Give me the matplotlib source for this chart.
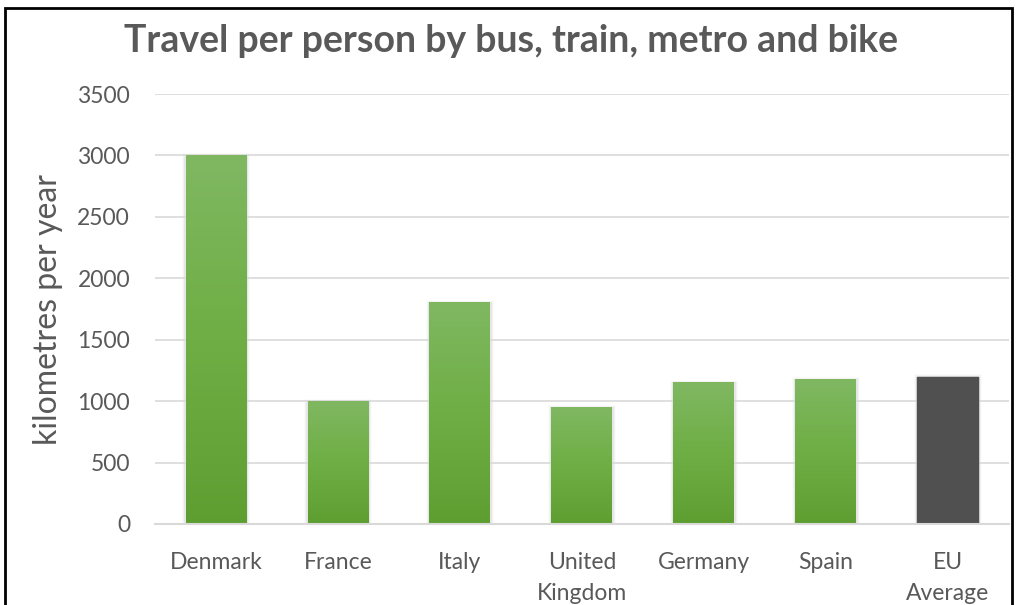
import numpy as np
import matplotlib
matplotlib.use('Agg')
import matplotlib.pyplot as plt
from matplotlib.patches import Rectangle
from matplotlib.colors import LinearSegmentedColormap

countries = ['Denmark', 'France', 'Italy', 'United\nKingdom', 'Germany', 'Spain', 'EU\nAverage']
km_per_year = [3000, 1000, 1800, 950, 1150, 1175, 1200]
yticks = [0, 500, 1000, 1500, 2000, 2500, 3000, 3500]

plt.rcParams['font.family'] = ['Lato', 'DejaVu Sans']
text_color = '#595959'

fig = plt.figure(figsize=(10.16, 6.05), dpi=100)
ax = fig.add_axes([0.1526, 0.1339, 0.8404, 0.7107])

x = np.arange(len(countries))
bars = ax.bar(x, km_per_year, width=0.5, color='#70ad47', zorder=2)

# gradient fill: lighter at the top, darker at the bottom
green = LinearSegmentedColormap.from_list('g', ['#5e9e31', '#6eae44', '#80b862'])
grad = np.linspace(0, 1, 256).reshape(-1, 1)
for i, b in enumerate(bars):
    x0, w, h = b.get_x(), b.get_width(), b.get_height()
    # soft shadow at the sides
    for k, a in enumerate([0.05, 0.03, 0.015]):
        ax.add_patch(Rectangle((x0 - 0.01 * (k + 1), 0), w + 0.02 * (k + 1), h + 6 * (k + 1),
                               color='black', alpha=a, lw=0, zorder=1.5))
    if i == len(bars) - 1:
        b.set_color('#505050')
        continue
    b.set_alpha(0)
    ax.imshow(grad, cmap=green, aspect='auto', extent=(x0, x0 + w, 0, h),
              origin='lower', zorder=2)

ax.set_xlim(-0.5, len(countries) - 0.5)
ax.set_ylim(0, 3500)
ax.set_yticks(yticks)
ax.set_xticks(x)
ax.set_xticklabels(countries, linespacing=1.6)
ax.tick_params(axis='both', length=0, labelsize=16.5, colors=text_color)
ax.tick_params(axis='y', pad=18)
ax.tick_params(axis='x', pad=20)
ax.yaxis.grid(True, color='#d9d9d9', lw=1.2, zorder=0)
for s in ['top', 'right', 'left']:
    ax.spines[s].set_visible(False)
ax.spines['bottom'].set_color('#d9d9d9')
ax.spines['bottom'].set_linewidth(1.5)
ax.set_ylabel('kilometres per year', fontsize=23, color=text_color, labelpad=10)

fig.text(0.503, 0.932, 'Travel per person by bus, train, metro and bike',
         ha='center', va='center', fontsize=27, fontweight='bold', color='#595959')

fig.add_artist(Rectangle((0.005, -0.01), 0.991, 0.997, transform=fig.transFigure,
                         fill=False, edgecolor='black', lw=2))

plt.savefig('out.png', dpi=100)
